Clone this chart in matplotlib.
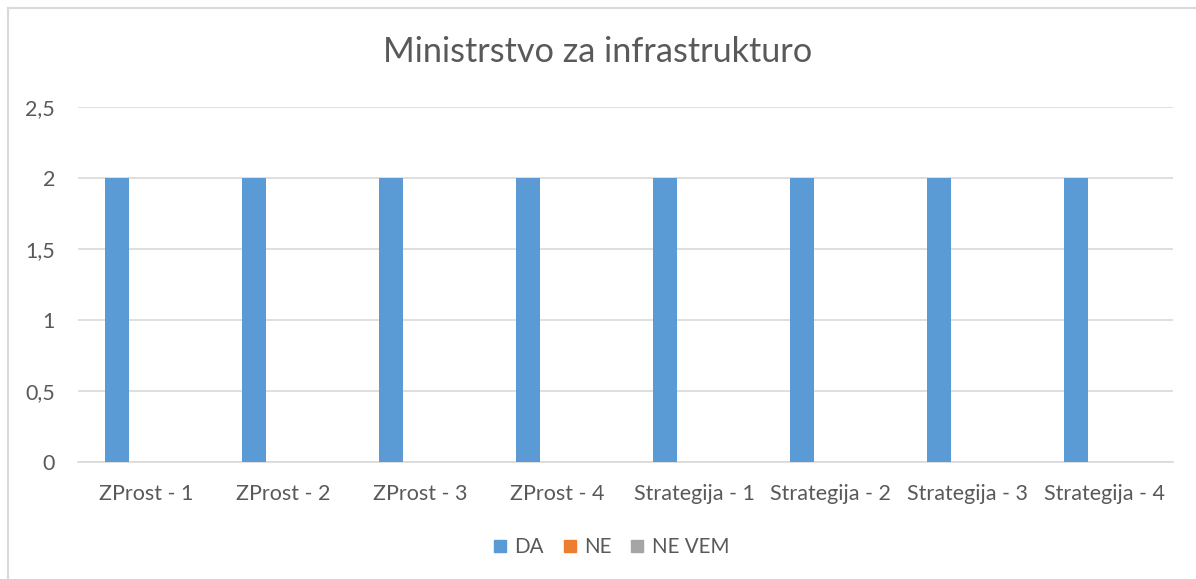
import matplotlib
matplotlib.use("Agg")
import matplotlib.pyplot as plt
import numpy as np
from matplotlib.lines import Line2D

categories = ["ZProst - 1", "ZProst - 2", "ZProst - 3", "ZProst - 4",
              "Strategija - 1", "Strategija - 2", "Strategija - 3", "Strategija - 4"]
series_names = ["DA", "NE", "NE VEM"]
da = [2, 2, 2, 2, 2, 2, 2, 2]
ne = [0, 0, 0, 0, 0, 0, 0, 0]
ne_vem = [0, 0, 0, 0, 0, 0, 0, 0]
y_ticks = [0, 0.5, 1, 1.5, 2, 2.5]
y_labels = ["0", "0,5", "1", "1,5", "2", "2,5"]
colors = ["#5B9BD5", "#ED7D31", "#A5A5A5"]

plt.rcParams['font.family'] = ['Lato', 'DejaVu Sans']
text_color = "#595959"

fig = plt.figure(figsize=(11.96, 5.79), dpi=100)
W, H = 1196, 579
ax = fig.add_axes([78 / W, (H - 462) / H, (1173 - 78) / W, (462 - 107) / H])

x = np.arange(len(categories))
bw = 0.175
offs = [-0.212, 0.0, 0.212]
for vals, c, o, n in zip([da, ne, ne_vem], colors, offs, series_names):
    ax.bar(x + o, vals, width=bw, color=c, label=n, zorder=3)

ax.set_xlim(-0.5, len(categories) - 0.5)
ax.set_ylim(0, 2.5)
ax.set_yticks(y_ticks)
ax.set_yticklabels(y_labels)
ax.set_xticks(x)
ax.set_xticklabels(categories)
ax.tick_params(axis='both', length=0, labelsize=15.5, colors=text_color)
ax.tick_params(axis='x', pad=16)
ax.tick_params(axis='y', pad=16.5)
ax.grid(axis='y', color="#D9D9D9", linewidth=1.2, zorder=0)
for s in ["top", "right", "left"]:
    ax.spines[s].set_visible(False)
ax.spines["bottom"].set_color("#D9D9D9")
ax.spines["bottom"].set_linewidth(1.2)

fig.text(0.5, 1 - 52 / H, "Ministrstvo za infrastrukturo", ha="center", va="center",
         fontsize=24.7, color=text_color)

handles = [Line2D([0], [0], marker='s', linestyle='none', markersize=9,
                  markerfacecolor=c, markeredgecolor=c) for c in colors]
fig.legend(handles, series_names, loc="center", bbox_to_anchor=(0.51, 1 - 547 / H),
           ncol=3, frameon=False, fontsize=14.8, labelcolor=text_color,
           handletextpad=0.25, columnspacing=0.8, handlelength=0.9)

# figure border (top and left visible)
fig.add_artist(Line2D([8 / W, 8 / W], [0, 1 - 8 / H], transform=fig.transFigure,
                      color="#D9D9D9", linewidth=1.5))
fig.add_artist(Line2D([8 / W, 1], [1 - 8 / H, 1 - 8 / H], transform=fig.transFigure,
                      color="#D9D9D9", linewidth=1.5))

fig.savefig("out.png", dpi=100, facecolor="white")
